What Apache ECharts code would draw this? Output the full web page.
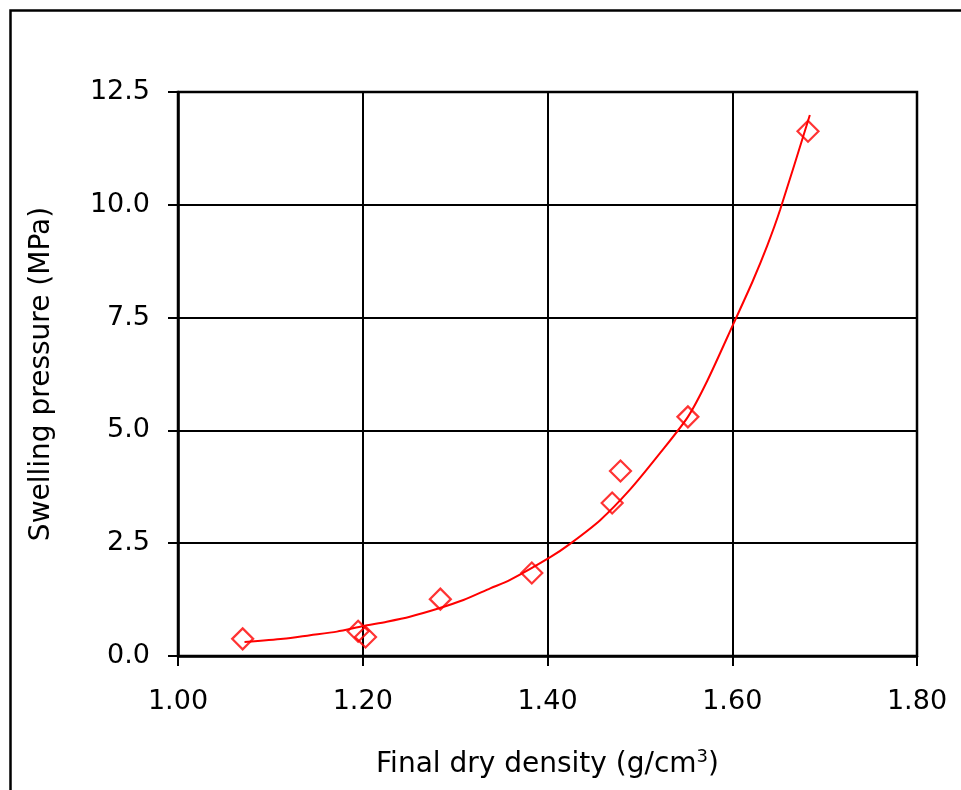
<!DOCTYPE html>
<html>
<head>
<meta charset="utf-8">
<script src="https://cdn.jsdelivr.net/npm/echarts@6/dist/echarts.min.js"></script>
<style>
html,body{margin:0;padding:0;background:#fff;}
#chart{width:961px;height:790px;}
</style>
</head>
<body>
<div id="chart"></div>
<script>
// Measured points: final dry density (g/cm3) and swelling pressure (MPa)
const density = [1.070, 1.195, 1.203, 1.284, 1.383, 1.470, 1.479, 1.552, 1.682];
const pressure = [0.38, 0.55, 0.42, 1.26, 1.84, 3.39, 4.10, 5.30, 11.63];

// Trend line
const trendX = [1.072, 1.114, 1.143, 1.172, 1.200, 1.226, 1.251, 1.280, 1.309, 1.338, 1.359, 1.403, 1.424, 1.457, 1.489, 1.522, 1.552, 1.573, 1.601, 1.622, 1.638, 1.652, 1.684];
const trendY = [0.31, 0.38, 0.46, 0.54, 0.66, 0.76, 0.87, 1.04, 1.24, 1.50, 1.68, 2.19, 2.48, 3.01, 3.68, 4.50, 5.30, 6.10, 7.35, 8.30, 9.10, 9.90, 11.99];

const xTicks = ['1.00', '1.20', '1.40', '1.60', '1.80'];
const yTicks = ['0.0', '2.5', '5.0', '7.5', '10.0', '12.5'];

const FONT = 'DejaVu Sans';
const chart = echarts.init(document.getElementById('chart'), null, {renderer: 'canvas'});
chart.setOption({
  animation: false,
  backgroundColor: '#fff',
  graphic: [{
    type: 'rect', left: 8, top: 8, z: 0,
    shape: {x: 0, y: 0, width: 1000, height: 1000},
    style: {fill: 'none', stroke: '#000', lineWidth: 2.5}
  }],
  grid: {left: 178, top: 92, width: 739, height: 564, show: true, borderColor: '#000', borderWidth: 2.5, backgroundColor: 'transparent'},
  xAxis: {
    type: 'value', min: 1.0, max: 1.8, interval: 0.2,
    axisLine: {show: true, lineStyle: {color: '#000', width: 2.5}},
    axisTick: {show: true, inside: false, length: 10, lineStyle: {color: '#000', width: 2}},
    splitLine: {show: true, lineStyle: {color: '#000', width: 2}},
    axisLabel: {margin: 32, color: '#000', fontFamily: FONT, fontSize: 27,
      formatter: (v) => xTicks[Math.round((v - 1.0) / 0.2)]},
    name: '{a|Final dry density (g/cm}{s|3}{a|)}',
    nameLocation: 'middle', nameGap: 92,
    nameTextStyle: {rich: {
      a: {fontFamily: FONT, fontSize: 28, color: '#000'},
      s: {fontFamily: FONT, fontSize: 18, color: '#000', verticalAlign: 'top', padding: [0, 0, 16, 0]}
    }}
  },
  yAxis: {
    type: 'value', min: 0, max: 12.5, interval: 2.5,
    axisLine: {show: true, lineStyle: {color: '#000', width: 2.5}},
    axisTick: {show: true, inside: false, length: 10, lineStyle: {color: '#000', width: 2}},
    splitLine: {show: true, lineStyle: {color: '#000', width: 2}},
    axisLabel: {margin: 28, color: '#000', fontFamily: FONT, fontSize: 27,
      formatter: (v) => yTicks[Math.round(v / 2.5)]},
    name: 'Swelling pressure (MPa)',
    nameLocation: 'middle', nameGap: 122,
    nameTextStyle: {fontFamily: FONT, fontSize: 28, color: '#000'}
  },
  series: [{
    type: 'line',
    data: trendX.map((x, i) => [x, trendY[i]]),
    smooth: 0.25, showSymbol: false, symbol: 'none',
    lineStyle: {color: '#ff0000', width: 2},
    z: 3
  }, {
    type: 'scatter',
    data: density.map((x, i) => [x, pressure[i]]),
    symbol: 'diamond', symbolSize: 21,
    itemStyle: {color: 'transparent', borderColor: '#ff0000', borderWidth: 2.2},
    z: 4
  }]
});
</script>
</body>
</html>
